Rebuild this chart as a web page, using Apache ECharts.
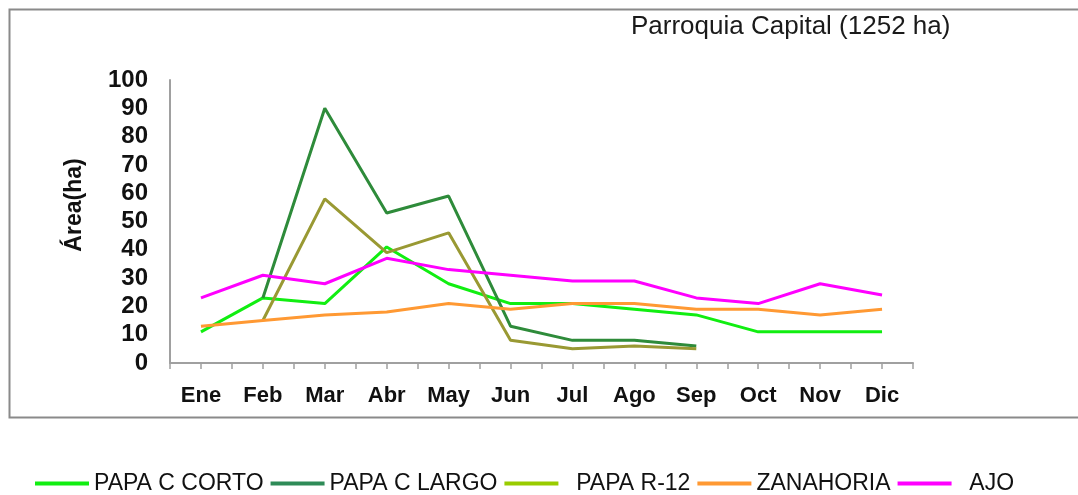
<!DOCTYPE html>
<html>
<head>
<meta charset="utf-8">
<script src="https://cdn.jsdelivr.net/npm/echarts@6/dist/echarts.min.js"></script>
<style>
html,body{margin:0;padding:0;background:#fff;}
#chart{width:1078px;height:495px;}
</style>
</head>
<body>
<div id="chart"></div>
<script>
const months = ['Ene','Feb','Mar','Abr','May','Jun','Jul','Ago','Sep','Oct','Nov','Dic'];
const papaCorto = [11, 23, 21, 41, 28, 21, 21, 19, 17, 11, 11, 11];
const papaLargo = [null, 23, 90, 53, 59, 13, 8, 8, 6, null, null, null];
const papaR12 = [null, 15, 58, 39, 46, 8, 5, 6, 5, null, null, null];
const zanahoria = [13, 15, 17, 18, 21, 19, 21, 21, 19, 19, 17, 19];
const ajo = [23, 31, 28, 37, 33, 31, 29, 29, 23, 21, 28, 24];
const yTicks = [0,10,20,30,40,50,60,70,80,90,100];

const FONT = "'Liberation Sans', Arial, sans-serif";
const chart = echarts.init(document.getElementById('chart'), null, {renderer:'canvas'});

function line(name, data, color){
  return {
    name: name, type: 'line', data: data, xAxisIndex: 0, yAxisIndex: 0,
    symbol: 'none', connectNulls: false,
    lineStyle: {color: color, width: 3},
    itemStyle: {color: color},
    animation: false
  };
}

chart.setOption({
  animation: false,
  title: {
    text: 'Parroquia Capital (1252 ha)',
    left: 626, top: 9,
    textStyle: {fontFamily: FONT, fontSize: 26, fontWeight: 'normal', color: '#1a1a1a'}
  },
  graphic: [{
    type: 'rect', shape: {x: 9.5, y: 9.5, width: 1100, height: 408},
    style: {fill: 'none', stroke: '#8a8a8a', lineWidth: 2}, silent: true, z: -1
  }, {
    type: 'text', x: 75, y: 205, rotation: Math.PI / 2,
    style: {text: 'Área(ha)', font: "bold 23px 'Liberation Sans', Arial, sans-serif",
      fill: '#111', align: 'center', verticalAlign: 'middle'}, silent: true
  }],
  grid: {left: 170, right: 165, top: 80, bottom: 132, containLabel: false},
  legend: {
    left: 35, top: 472, padding: 0,
    itemWidth: 54, itemHeight: 4, itemGap: 7,
    icon: 'rect',
    textStyle: {fontFamily: FONT, fontSize: 23, color: '#111'},
    data: [
      {name: 'PAPA C CORTO', itemStyle: {color: '#11ee11'}},
      {name: 'PAPA C LARGO', itemStyle: {color: '#2e8b57'}},
      {name: 'PAPA R-12', itemStyle: {color: '#99cc00'}},
      {name: 'ZANAHORIA', itemStyle: {color: '#ff9933'}},
      {name: 'AJO', itemStyle: {color: '#ff00ff'}}
    ],
    formatter: function(n){ return (n === 'PAPA R-12' || n === 'AJO') ? '  ' + n : n; }
  },
  xAxis: [{
    type: 'category', data: months, boundaryGap: true,
    axisLine: {lineStyle: {color: '#a0a0a0', width: 2}},
    axisTick: {show: true, length: 6, lineStyle: {color: '#a0a0a0', width: 1.5}},
    axisLabel: {fontFamily: FONT, fontSize: 22, fontWeight: 'bold', color: '#111', margin: 22}
  }, {
    type: 'category', data: months, boundaryGap: true, position: 'bottom',
    axisLine: {show: false},
    axisTick: {show: true, alignWithLabel: true, length: 6, lineStyle: {color: '#a0a0a0', width: 1.5}},
    axisLabel: {show: false}
  }],
  yAxis: {
    type: 'value', min: 0, max: 100, interval: 10,
    axisLine: {show: true, lineStyle: {color: '#a0a0a0', width: 2}},
    axisTick: {show: false},
    splitLine: {show: false},
    axisLabel: {fontFamily: FONT, fontSize: 24, fontWeight: 'bold', color: '#111', margin: 22,
      formatter: function(v){ return yTicks.indexOf(v) >= 0 ? String(v) : ''; }}
  },
  series: [
    line('PAPA C CORTO', papaCorto, '#11ee11'),
    line('PAPA C LARGO', papaLargo, '#2e8b3a'),
    line('PAPA R-12', papaR12, '#999933'),
    line('ZANAHORIA', zanahoria, '#ff9933'),
    line('AJO', ajo, '#ff00ff')
  ]
});
</script>
</body>
</html>
